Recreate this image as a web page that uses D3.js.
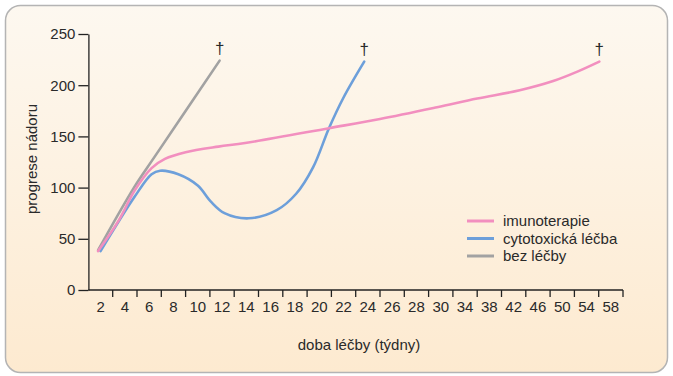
<!DOCTYPE html>
<html>
<head>
<meta charset="utf-8">
<script src="https://cdn.jsdelivr.net/npm/d3@7"></script>
<style>
  body { margin: 0; background: #fff; }
  svg text { font-family: "Liberation Sans", Arial, sans-serif; fill: #2a2a2a; }
</style>
</head>
<body>
<div id="chart"></div>
<script>
// Tick labels along x (weeks) - note the step changes after 30
const weekLabels = [2, 4, 6, 8, 10, 12, 14, 16, 18, 20, 22, 24, 26, 28, 30, 34, 38, 42, 46, 50, 54, 58];
const yTicks = [0, 50, 100, 150, 200, 250];

// Series: [week, value]
const imunoterapie = [
  [1.8, 38], [3.5, 68], [4.8, 97], [6.2, 119], [7.3, 128], [9, 134.5], [11.7, 140],
  [13.9, 143.5], [20.8, 158], [25, 167], [29.7, 178.5], [36, 187], [43, 195],
  [48.5, 204], [52.4, 213], [56.1, 223]
];
const cytotoxicka = [
  [2, 38], [4.8, 91], [6.2, 113], [6.9, 116.5], [8.4, 113], [10, 102],
  [11.1, 86], [12.2, 75], [14.2, 70], [16.5, 78], [18.1, 94], [19.5, 120],
  [20.8, 158], [22, 188], [23.7, 223]
];
const bezLecby = [
  [1.8, 39], [4.8, 101], [6.5, 131], [11.8, 224]
];

const seriesNames = ['imunoterapie', 'cytotoxická léčba', 'bez léčby'];
const seriesColors = ['#f28fbf', '#6d9fda', '#a2a2a2'];
const seriesData = [imunoterapie, cytotoxicka, bezLecby];

const width = 673, height = 376;
const margin = { left: 88.4, right: 623, top: 34, bottom: 290 };

const svg = d3.select('#chart').append('svg')
  .attr('width', width)
  .attr('height', height);

// Panel background
const grad = svg.append('defs').append('linearGradient')
  .attr('id', 'bg').attr('x1', 0).attr('y1', 0).attr('x2', 0).attr('y2', 1);
grad.append('stop').attr('offset', '0%').attr('stop-color', '#fdf8f0');
grad.append('stop').attr('offset', '100%').attr('stop-color', '#fdead0');

svg.append('rect')
  .attr('x', 5.5).attr('y', 5.5)
  .attr('width', 662).attr('height', 367)
  .attr('rx', 15).attr('ry', 15)
  .attr('fill', 'url(#bg)')
  .attr('stroke', '#b4b4b4')
  .attr('stroke-width', 1.5);

// Band scale for the labels, and a piecewise scale for the weeks
const xBand = d3.scaleBand()
  .domain(weekLabels)
  .range([margin.left, margin.right]);

const x = d3.scaleLinear()
  .domain([2, 30, 58])
  .range([xBand(2) + xBand.bandwidth() / 2, xBand(30) + xBand.bandwidth() / 2, xBand(58) + xBand.bandwidth() / 2]);

const y = d3.scaleLinear()
  .domain([0, 250])
  .range([margin.bottom, margin.top]);

// Y axis
const yAxis = svg.append('g')
  .attr('transform', 'translate(' + margin.left + ',0)')
  .call(d3.axisLeft(y).tickValues(yTicks).tickSize(10).tickPadding(3).tickSizeOuter(0));
yAxis.select('.domain').attr('stroke', '#222').attr('stroke-width', 1.3);
yAxis.selectAll('.tick line').attr('stroke', '#222').attr('stroke-width', 1.3);
yAxis.selectAll('text').attr('font-size', 15).attr('fill', '#2a2a2a')
  .attr('font-family', '"Liberation Sans", Arial, sans-serif');

// X axis - line, tick marks at band edges, labels at band centres
const xAxis = svg.append('g');
xAxis.append('line')
  .attr('x1', margin.left).attr('x2', margin.right)
  .attr('y1', margin.bottom).attr('y2', margin.bottom)
  .attr('stroke', '#222').attr('stroke-width', 1.3);

xAxis.selectAll('line.tick')
  .data(weekLabels)
  .enter().append('line')
  .attr('class', 'tick')
  .attr('x1', d => xBand(d) + xBand.bandwidth())
  .attr('x2', d => xBand(d) + xBand.bandwidth())
  .attr('y1', margin.bottom)
  .attr('y2', margin.bottom + 7)
  .attr('stroke', '#222').attr('stroke-width', 1.3);

xAxis.selectAll('text.lbl')
  .data(weekLabels)
  .enter().append('text')
  .attr('class', 'lbl')
  .attr('x', d => xBand(d) + xBand.bandwidth() / 2)
  .attr('y', margin.bottom + 22)
  .attr('text-anchor', 'middle')
  .attr('font-size', 15)
  .text(d => d);

// Axis titles
svg.append('text')
  .attr('x', 359).attr('y', 350)
  .attr('text-anchor', 'middle')
  .attr('font-size', 15)
  .text('doba léčby (týdny)');

svg.append('text')
  .attr('transform', 'translate(37,159) rotate(-90)')
  .attr('text-anchor', 'middle')
  .attr('font-size', 15)
  .text('progrese nádoru');

// Curves
const line = d3.line()
  .x(d => x(d[0]))
  .y(d => y(d[1]))
  .curve(d3.curveCatmullRom.alpha(0.5));

// draw gray first, pink last so it sits on top like in the picture
[2, 1, 0].forEach(function (i) {
  svg.append('path')
    .datum(seriesData[i])
    .attr('d', line)
    .attr('fill', 'none')
    .attr('stroke', seriesColors[i])
    .attr('stroke-width', 2.6)
    .attr('stroke-linecap', 'round');
});

// Daggers at the end of each curve
seriesData.forEach(function (s) {
  const last = s[s.length - 1];
  svg.append('text')
    .attr('x', x(last[0]))
    .attr('y', y(last[1]) - 7)
    .attr('text-anchor', 'middle')
    .attr('font-size', 17)
    .attr('fill', '#333')
    .text('†');
});

// Legend
const legend = svg.append('g').attr('transform', 'translate(467,221)');
seriesNames.forEach(function (name, i) {
  const g = legend.append('g').attr('transform', 'translate(0,' + (i * 17.5) + ')');
  g.append('line')
    .attr('x1', 0).attr('x2', 27)
    .attr('stroke', seriesColors[i])
    .attr('stroke-width', 3);
  g.append('text')
    .attr('x', 36).attr('y', 5)
    .attr('font-size', 15)
    .text(name);
});
</script>
</body>
</html>
